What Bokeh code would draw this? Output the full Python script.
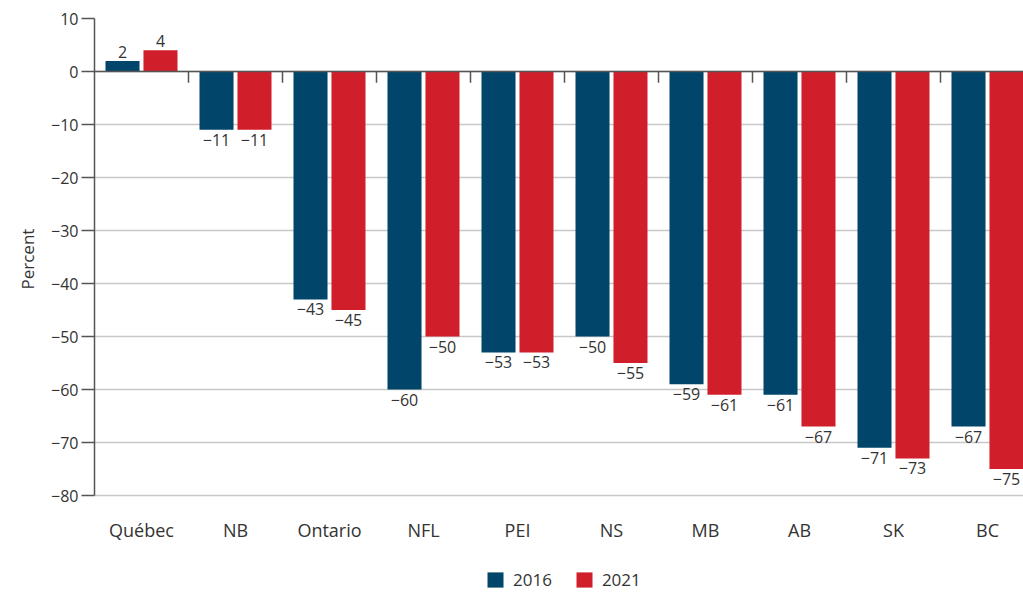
from bokeh.plotting import figure
from bokeh.models import (ColumnDataSource, Range1d, FixedTicker, Legend, LegendItem,
                          LinearAxis, Span, Title)
from bokeh.core.properties import value
from bokeh.embed import file_html
from bokeh.resources import INLINE

provinces = ["Québec", "NB", "Ontario", "NFL", "PEI", "NS", "MB", "AB", "SK", "BC"]
y2016 = [2, -11, -43, -60, -53, -50, -59, -61, -71, -67]
y2021 = [4, -11, -45, -50, -53, -55, -61, -67, -73, -75]
y_ticks = [10, 0, -10, -20, -30, -40, -50, -60, -70, -80]

BLUE = "#01456a"
RED = "#d01f2b"
FONT = "Open Sans"
TEXT = "#333333"

Y_TOP, Y_BOT = max(y_ticks), min(y_ticks)
PX_PER_UNIT = 477 / (Y_TOP - Y_BOT)
# extra room under the value axis for category names and the legend
y_floor = Y_BOT - 97 / PX_PER_UNIT


def fmt(v):
    return ("\u2212" + str(abs(v))) if v < 0 else str(v)


n = len(provinces)
centers = [i + 0.5 for i in range(n)]
off = 0.202
bw = 0.362


def series_source(vals, shift):
    return ColumnDataSource(dict(
        x=[c + shift for c in centers], top=vals,
        lab=[fmt(v) for v in vals],
        base=["bottom" if v >= 0 else "top" for v in vals],
        dy=[-3 if v >= 0 else 4 for v in vals],
    ))


src16 = series_source(y2016, -off)
src21 = series_source(y2021, off)
src_cat = ColumnDataSource(dict(x=centers, y=[Y_BOT] * n, name=provinces))

p = figure(width=1023, height=592, output_backend="svg", toolbar_location=None,
           x_range=Range1d(0, 929 / 94), y_range=Range1d(y_floor, Y_TOP),
           min_border_left=94, min_border_right=0, min_border_top=18,
           min_border_bottom=0, outline_line_color=None, background_fill_color="white",
           border_fill_color="white", x_axis_location=None, y_axis_location=None)

# y axis
yax = LinearAxis(ticker=FixedTicker(ticks=y_ticks), bounds=(Y_BOT, Y_TOP),
                 major_label_overrides={t: fmt(t) for t in y_ticks},
                 axis_line_color="#555555", axis_line_width=1.5,
                 major_tick_line_color="#555555", major_tick_line_width=1.5,
                 major_tick_out=13, major_tick_in=0, minor_tick_line_color=None,
                 major_label_text_font=FONT, major_label_text_font_size="16px",
                 major_label_text_color=TEXT, major_label_standoff=3)
p.add_layout(yax, "left")

# axis title, centred on the labelled part of the axis
p.add_layout(Title(text="Percent", align="left", vertical_align="top",
                   offset=303, standoff=16, text_font=FONT, text_font_size="17px",
                   text_font_style="normal", text_color=TEXT), "left")

p.xgrid.visible = False
p.ygrid.ticker = FixedTicker(ticks=y_ticks)
p.ygrid.grid_line_color = "#c8c8c8"
p.ygrid.grid_line_width = 1.5

# category separators on the zero line
bounds = list(range(1, n))
p.segment(x0=bounds, x1=bounds, y0=[0] * len(bounds), y1=[-2.1] * len(bounds),
          line_color="#555555", line_width=1.5)

r16 = p.vbar(x="x", top="top", bottom=0, width=bw, source=src16,
             fill_color=BLUE, line_color=None)
r21 = p.vbar(x="x", top="top", bottom=0, width=bw, source=src21,
             fill_color=RED, line_color=None)

p.add_layout(Span(location=0, dimension="width", line_color="#555555", line_width=1.5))

# value labels
for s in (src16, src21):
    p.text(x="x", y="top", text="lab", source=s, text_align="center",
           text_baseline="base", y_offset="dy", text_font=value(FONT),
           text_font_size="16px", text_color=TEXT)

# province names under the lowest gridline
p.text(x="x", y="y", text="name", source=src_cat, text_align="center",
       text_baseline="middle", y_offset=34, text_font=value(FONT),
       text_font_size="18px", text_color=TEXT)

legend = Legend(items=[LegendItem(label="2016", renderers=[r16]),
                       LegendItem(label="2021", renderers=[r21])],
                orientation="horizontal", location=(391, 1),
                label_text_font=FONT, label_text_font_size="17px",
                label_text_color=TEXT, glyph_width=20, glyph_height=19,
                spacing=22, border_line_color=None, background_fill_alpha=0,
                margin=0, padding=2, label_standoff=8)
p.add_layout(legend, "center")

open("out.html", "w").write(file_html(p, INLINE))
